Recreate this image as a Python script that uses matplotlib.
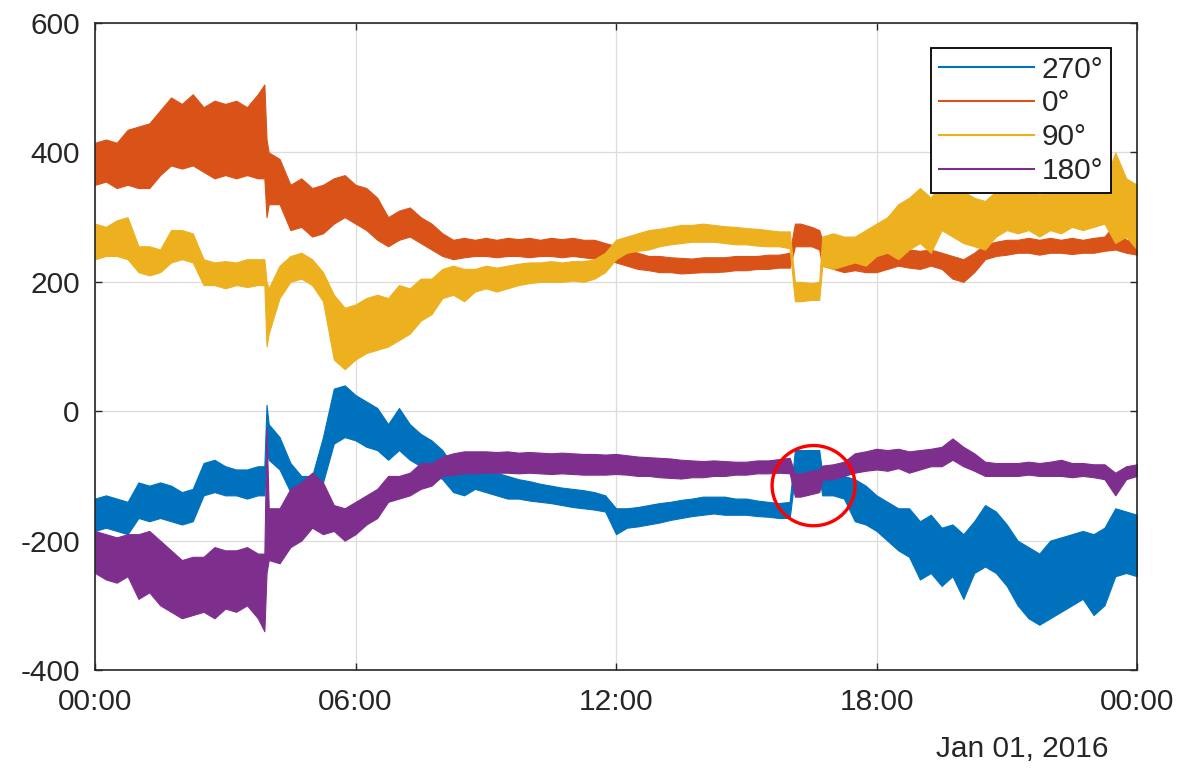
import numpy as np
import matplotlib
matplotlib.use("Agg")
import matplotlib.pyplot as plt
from matplotlib.lines import Line2D
from matplotlib.patches import Ellipse

plt.rcParams['font.family'] = ['Liberation Sans', 'DejaVu Sans']
plt.rcParams['axes.unicode_minus'] = False

# time of day in hours: a reading every 15 minutes, plus a few extra around the jumps
hours = np.sort(np.r_[np.arange(0, 24.01, 0.25), 3.9, 3.95, 16.12, 16.68])

# each series: lower / upper edge of the noisy trace
lo_270 = [-185, -180, -185, -190, -165, -170, -165, -170, -175, -170, -130, -125, -130, -130, -135, -130,
          -130, -60,
          -75, -90, -125, -135, -140, -110, -50, -40, -45, -55, -60, -75, -60, -75, -85, -95,
          -105, -125, -130, -120, -125, -130, -135, -135, -138, -140, -142, -145, -148, -150, -152, -155,
          -190, -180, -178, -175, -172, -168, -165, -162, -160, -158, -160, -160, -160, -162, -163, -165,
          -165, -100, -100, -100, -100, -130, -130, -135, -170, -175, -185, -200, -215, -225, -260, -250, -270, -255,
          -290, -250, -240, -250, -270, -300, -320, -330, -320, -310, -300, -290, -315, -300, -255, -250, -255]
hi_270 = [-135, -130, -135, -140, -110, -115, -110, -115, -125, -120, -80, -75, -85, -90, -90, -85,
          -85, 10,
          -20, -40, -80, -100, -100, -40, 35, 40, 25, 15, 5, -20, 5, -20, -35, -45,
          -60, -85, -90, -80, -90, -95, -100, -105, -108, -112, -115, -118, -120, -122, -125, -130,
          -150, -150, -148, -145, -142, -140, -137, -135, -132, -132, -132, -135, -135, -138, -140, -142,
          -140, -60, -60, -60, -60, -95, -95, -100, -105, -115, -130, -140, -150, -150, -170, -160, -180, -175,
          -190, -170, -145, -155, -175, -200, -210, -220, -200, -195, -190, -185, -190, -180, -150, -155, -160]

lo_0 = [350, 355, 345, 350, 345, 345, 365, 380, 375, 380, 370, 360, 365, 360, 365, 360,
        360, 300,
        320, 320, 280, 285, 270, 275, 290, 300, 290, 280, 265, 255, 265, 270, 260, 250,
        240, 235, 238, 240, 240, 238, 240, 240, 238, 240, 240, 238, 240, 238, 236, 235,
        230, 225, 220, 218, 215, 215, 213, 214, 215, 215, 216, 218, 218, 220, 220, 222,
        222, 255, 255, 255, 250, 225, 220, 215, 218, 215, 215, 220, 225, 222, 220, 225, 220, 205,
        200, 215, 235, 240, 242, 245, 245, 242, 245, 245, 243, 245, 245, 248, 250, 245, 242]
hi_0 = [415, 420, 415, 435, 440, 445, 465, 485, 475, 490, 470, 480, 475, 480, 470, 490,
        505, 420,
        400, 390, 350, 360, 345, 350, 360, 365, 350, 345, 330, 300, 310, 315, 300, 290,
        275, 265, 268, 265, 268, 265, 268, 266, 268, 265, 268, 266, 268, 265, 265, 260,
        255, 250, 245, 240, 240, 238, 237, 236, 238, 238, 238, 240, 240, 240, 242, 242,
        245, 290, 290, 285, 280, 265, 250, 250, 248, 245, 250, 250, 252, 250, 248, 250, 245, 240,
        235, 245, 258, 262, 265, 265, 268, 265, 268, 265, 268, 265, 268, 270, 290, 265, 262]

lo_90 = [235, 240, 240, 235, 215, 210, 215, 230, 235, 230, 195, 195, 190, 195, 192, 195,
         195, 100,
         120, 175, 200, 205, 195, 170, 80, 65, 80, 90, 95, 100, 110, 120, 140, 150,
         175, 180, 170, 185, 190, 185, 190, 195, 198, 200, 200, 200, 202, 200, 205, 215,
         235, 245, 248, 250, 255, 258, 260, 262, 262, 262, 260, 258, 258, 256, 255, 255,
         252, 170, 170, 172, 172, 225, 220, 225, 230, 225, 240, 245, 235, 250, 260, 245, 280, 270,
         260, 255, 250, 270, 280, 275, 280, 270, 280, 275, 285, 280, 285, 290, 260, 270, 250]
hi_90 = [290, 285, 295, 300, 255, 255, 250, 280, 280, 275, 235, 230, 232, 230, 235, 235,
         235, 200,
         190, 225, 240, 245, 235, 215, 180, 160, 165, 175, 180, 175, 195, 190, 205, 205,
         220, 225, 220, 220, 225, 222, 225, 228, 230, 230, 232, 230, 232, 232, 235, 245,
         265, 270, 275, 280, 282, 285, 288, 288, 290, 288, 286, 285, 283, 282, 280, 278,
         278, 200, 200, 198, 200, 270, 275, 270, 270, 280, 290, 300, 320, 330, 345, 330, 355, 345,
         340, 330, 325, 340, 345, 340, 345, 335, 340, 345, 340, 345, 350, 355, 400, 360, 350]

lo_180 = [-250, -260, -265, -255, -290, -280, -300, -310, -320, -315, -310, -320, -305, -310, -300, -320,
          -340, -250,
          -230, -235, -210, -200, -180, -190, -185, -200, -190, -175, -165, -140, -135, -130, -120, -115,
          -100, -98, -96, -96, -95, -95, -95, -96, -95, -96, -97, -96, -97, -98, -98, -98,
          -97, -98, -100, -100, -102, -103, -104, -102, -102, -100, -100, -98, -98, -96, -96, -95,
          -96, -132, -132, -128, -125, -106, -105, -100, -95, -92, -90, -92, -88, -95, -90, -85, -85, -75,
          -85, -92, -100, -100, -100, -100, -98, -100, -100, -100, -102, -100, -102, -105, -130, -105, -100]
hi_180 = [-185, -190, -195, -190, -190, -185, -200, -215, -230, -225, -225, -210, -215, -215, -210, -220,
          -220, -25,
          -150, -150, -120, -110, -95, -110, -145, -150, -140, -130, -120, -100, -100, -95, -80, -80,
          -70, -65, -62, -62, -62, -63, -62, -64, -63, -64, -65, -64, -65, -66, -66, -67,
          -66, -68, -70, -71, -72, -73, -75, -76, -77, -76, -77, -78, -78, -76, -76, -74,
          -72, -96, -96, -92, -90, -84, -82, -78, -65, -62, -58, -60, -58, -62, -60, -58, -55, -42,
          -55, -65, -78, -80, -80, -80, -78, -80, -78, -75, -80, -80, -82, -82, -95, -85, -82]

series_names = ['270°', '0°', '90°', '180°']
colors = ['#0072BD', '#D95319', '#EDB120', '#7E2F8E']
bands = [(lo_270, hi_270), (lo_0, hi_0), (lo_90, hi_90), (lo_180, hi_180)]

tick_hours = [0, 6, 12, 18, 24]
tick_labels = ['00:00', '06:00', '12:00', '18:00', '00:00']
date_label = 'Jan 01, 2016'

# highlighted spot (red circle)
mark_center = (16.55, -115)
mark_size = (1.91, 124)

txt = '#262626'
fig = plt.figure(figsize=(11.85, 7.69), dpi=100)
ax = fig.add_axes([0.0802, 0.1287, 0.8793, 0.8413])

for (lo, hi), c in zip(bands, colors):
    ax.fill_between(hours, lo, hi, color=c, lw=0.8, edgecolor=c)

ax.add_patch(Ellipse(mark_center, mark_size[0], mark_size[1], fill=False,
                     edgecolor='#FF0000', lw=2.4, zorder=5))

ax.set_xlim(0, 24)
ax.set_ylim(-400, 600)
ax.set_xticks(tick_hours)
ax.set_xticklabels(tick_labels)
ax.set_yticks(range(-400, 601, 200))
ax.grid(True, color='#dcdcdc', lw=0.9)
ax.set_axisbelow(True)
ax.tick_params(direction='in', length=5, width=1, colors=txt, labelsize=21.5,
               top=True, right=True)
ax.tick_params(axis='x', pad=13)
ax.tick_params(axis='y', pad=11)
for s in ax.spines.values():
    s.set_color(txt)
    s.set_linewidth(1.2)

fig.text(1108 / 1185, 1 - 749 / 769, date_label, ha='right', va='center',
         fontsize=21.5, color=txt)

handles = [Line2D([], [], color=c, lw=1.5) for c in colors]
leg = ax.legend(handles, series_names, loc='upper right',
                bbox_to_anchor=(0.975, 0.9614), borderaxespad=0,
                fontsize=21.5, handlelength=3.2, handletextpad=0.25,
                labelspacing=0.2, borderpad=0.25, fancybox=False,
                framealpha=1, edgecolor='#000000')
leg.get_frame().set_linewidth(1.3)
for t in leg.get_texts():
    t.set_color(txt)

fig.savefig('out.png', dpi=100)
